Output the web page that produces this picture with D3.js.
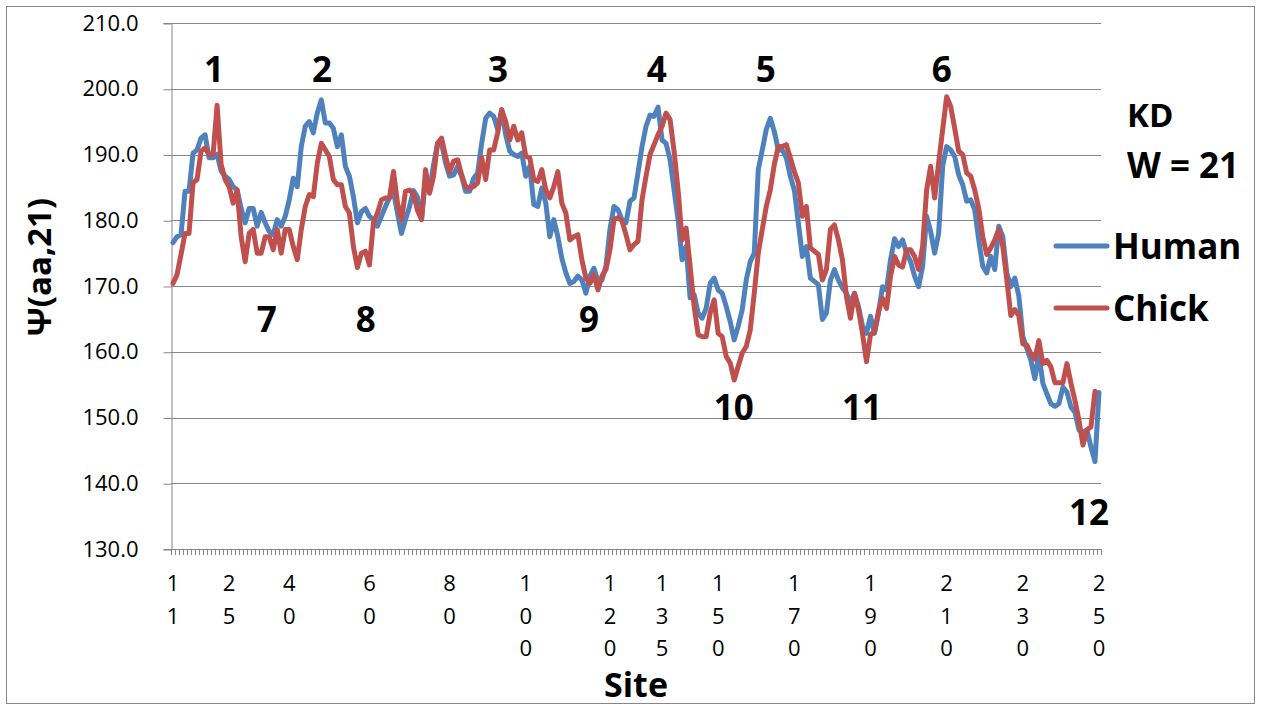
<!DOCTYPE html>
<html><head><meta charset="utf-8">
<script src="https://cdn.jsdelivr.net/npm/d3@7"></script>
<style>body{margin:0;background:#fff}svg{display:block}text{font-family:"Open Sans",sans-serif;fill:#000}</style>
</head><body><svg id="c" width="1267" height="711"></svg>
<script>
// ---- data ----
const human = [176.6,177.5,177.8,184.4,184.4,190.2,190.7,192.5,193.0,189.5,189.5,190.0,187.5,186.7,186.2,185.1,184.6,181.8,179.6,181.8,
181.8,179.1,181.2,179.6,178.3,177.8,180.1,179.1,180.6,183.1,186.4,185.1,191.2,194.3,195.0,193.3,196.3,198.3,194.8,194.8,
194.0,191.2,193.0,188.2,186.7,183.6,179.6,181.3,181.8,180.6,180.1,179.1,180.6,182.1,183.4,184.4,181.1,178.0,180.1,182.1,
184.5,183.5,180.1,186.2,184.6,188.4,191.7,191.7,188.7,186.7,186.9,188.2,186.7,184.4,184.4,186.4,187.2,191.7,195.5,196.3,
195.8,193.8,196.8,193.0,190.5,190.0,189.7,190.2,186.7,188.2,182.4,182.1,184.9,182.6,177.5,180.1,177.5,174.2,172.0,170.4,
170.7,171.5,170.9,168.9,171.5,172.7,170.7,170.9,173.0,178.6,182.1,181.6,180.1,179.6,182.9,183.4,187.2,191.2,194.3,196.0,
195.8,197.2,192.2,191.7,189.2,184.6,180.1,174.0,176.0,168.2,168.7,165.9,165.1,166.6,170.4,171.2,169.4,168.9,166.9,164.6,
161.8,163.9,166.4,170.9,173.7,175.0,187.7,190.7,193.8,195.5,193.5,190.7,190.7,189.5,186.7,184.6,179.6,174.5,176.0,171.2,
170.7,170.2,164.9,165.9,170.9,172.5,170.9,169.7,168.9,167.4,168.9,166.9,163.9,162.8,165.4,162.8,165.9,169.9,169.4,174.0,
177.2,176.0,177.0,175.0,173.7,171.5,169.9,173.0,180.6,178.3,175.0,178.0,188.2,191.2,190.7,189.7,186.9,185.4,182.9,183.1,
181.6,177.0,173.0,172.0,174.5,172.5,179.1,177.5,172.0,169.9,171.2,168.5,162.3,160.5,158.7,155.9,159.7,155.2,153.6,152.1,
151.7,152.1,154.6,153.9,151.6,150.8,148.1,147.8,148.1,145.5,143.3,153.8];
const chick = [170.4,171.7,174.8,178.0,178.0,185.7,186.2,190.5,191.0,190.0,190.0,197.5,188.5,186.2,185.1,182.6,184.6,177.5,173.7,178.0,
178.6,175.0,175.0,177.5,177.5,175.5,178.6,175.0,178.6,178.6,176.0,174.0,178.6,182.1,183.9,183.6,188.7,191.7,190.7,189.7,
186.2,185.4,185.4,182.1,181.1,176.0,172.8,175.0,175.3,173.2,179.6,181.1,183.1,183.4,183.4,187.4,182.6,180.1,184.4,184.6,
184.0,181.5,180.1,187.7,184.1,186.7,191.7,192.5,189.7,187.4,189.0,189.2,186.9,185.1,184.9,185.1,185.7,189.5,186.2,190.7,
190.7,193.3,196.8,195.0,192.2,194.3,192.2,193.3,189.7,189.5,186.2,185.9,187.7,184.6,183.4,185.1,187.4,182.6,181.1,177.0,
177.5,177.8,174.0,171.2,170.4,171.7,169.4,171.5,172.5,175.5,180.1,180.4,179.9,177.8,175.5,176.3,176.8,183.1,186.7,190.0,
191.5,193.0,194.3,196.3,195.3,190.5,184.6,177.0,178.8,173.0,166.9,162.6,162.3,162.3,165.9,167.9,162.8,162.3,159.3,158.3,
155.7,157.8,159.8,160.8,163.3,168.9,175.0,178.6,182.1,184.6,188.5,191.2,191.2,191.5,189.5,187.4,185.7,180.6,182.1,175.8,
175.3,174.8,170.9,172.5,178.6,179.3,177.0,174.0,168.4,165.1,168.9,166.4,162.8,158.5,162.6,163.1,166.1,168.1,166.6,171.5,
174.5,173.2,172.9,175.5,175.5,174.5,172.5,176.0,184.6,188.2,183.4,188.7,193.8,198.8,197.3,194.0,190.5,190.0,187.2,186.7,
184.6,181.8,177.5,174.8,175.8,177.0,178.6,176.0,171.0,165.5,166.4,165.5,161.2,161.0,159.7,158.9,161.7,158.2,158.7,157.7,
155.3,155.3,155.3,158.2,155.2,152.6,149.6,145.8,148.1,148.6,154.0];
const seriesNames = ["Human","Chick"];
const tickIndex = [0,14,29,49,69,88,109,122,136,155,174,193,212,231];
const tickLabels = ["11","25","40","60","80","100","120","135","150","170","190","210","230","250"];
const yTicks = [130,140,150,160,170,180,190,200,210];
const peakLabels = ["1","2","3","4","5","6","7","8","9","10","11","12"];
const peakIndex = [10.2,37.2,81.1,120.7,147.9,191.8,23.4,48.1,103.8,139.9,171.9,228.5];
const peakLevel = [202.9,202.9,202.9,202.9,202.9,202.9,164.9,164.9,164.9,151.5,151.5,135.6];

// ---- layout ----
const svg = d3.select("#c");
const L = 171, R = 1101, T = 23, B = 549;
const grey = "#878787";
const colors = ["#4F81BD","#C0504D"];
const N = human.length;
const xb = d3.scaleBand().domain(d3.range(N)).range([L, R]);
const xc = i => xb(0) + (i + 0.5) * xb.step();
const y = d3.scaleLinear().domain([130, 210]).range([B, T]);

svg.append("rect").attr("x",6.5).attr("y",6.5).attr("width",1248).attr("height",697)
  .attr("fill","#fff").attr("stroke",grey).attr("stroke-width",1);

// gridlines
svg.append("g").selectAll("line").data(yTicks).join("line")
  .attr("x1",L).attr("x2",R).attr("y1",d=>Math.round(y(d))+0.5).attr("y2",d=>Math.round(y(d))+0.5)
  .attr("stroke",grey).attr("stroke-width",1);

// y axis
const ya = svg.append("g").attr("transform",`translate(${L+0.5},0)`)
  .call(d3.axisLeft(y).tickValues(yTicks).tickFormat(d3.format(".1f")).tickSize(8).tickPadding(25));
ya.select(".domain").attr("stroke",grey);
ya.selectAll(".tick line").attr("stroke",grey).attr("transform","translate(0,0.5)");
ya.selectAll(".tick text").attr("font-family","Open Sans").attr("font-size",22).attr("fill","#000");

// x axis
svg.append("line").attr("x1",L).attr("x2",R).attr("y1",B+0.5).attr("y2",B+0.5).attr("stroke",grey);
svg.append("g").selectAll("line").data(d3.range(N+1)).join("line")
  .attr("x1",d=>Math.round(L + d*xb.step())+0.5).attr("x2",d=>Math.round(L + d*xb.step())+0.5)
  .attr("y1",B).attr("y2",B+6).attr("stroke",grey).attr("stroke-width",1);
const xl = svg.append("g").selectAll("text").data(tickIndex).join("text")
  .attr("text-anchor","middle").attr("font-size",22);
xl.each(function(d,k){
  const t = d3.select(this);
  tickLabels[k].split("").forEach((ch,j)=>{
    t.append("tspan").attr("x",xc(d)).attr("y",591 + j*32.5).text(ch);
  });
});

// series
const line = d3.line().x((d,i)=>xc(i)).y(d=>y(d)).curve(d3.curveLinear);
[human, chick].forEach((s,k)=>{
  svg.append("path").datum(s).attr("d",line).attr("fill","none")
    .attr("stroke",colors[k]).attr("stroke-width",5).attr("stroke-linejoin","round").attr("stroke-linecap","round");
});

// annotations
svg.append("g").selectAll("text").data(peakLabels).join("text")
  .attr("x",(d,k)=>xc(peakIndex[k])).attr("y",(d,k)=>y(peakLevel[k])).attr("dy","0.36em")
  .attr("text-anchor","middle").attr("font-weight",700).attr("font-size",35).text(d=>d);

svg.append("text").attr("x",1127).attr("y",127).attr("font-weight",700).attr("font-size",33).text("KD");
svg.append("text").attr("x",1127).attr("y",178).attr("font-weight",700).attr("font-size",35).text("W = 21");

// legend
seriesNames.forEach((n,k)=>{
  const yy = 246 + k*62;
  svg.append("line").attr("x1",1056).attr("x2",1107).attr("y1",yy).attr("y2",yy)
    .attr("stroke",colors[k]).attr("stroke-width",5).attr("stroke-linecap","round");
  svg.append("text").attr("x",1113).attr("y",yy+12.5).attr("font-weight",700).attr("font-size",35).text(n);
});

// axis titles
svg.append("text").attr("transform","translate(51,267) rotate(-90)").attr("text-anchor","middle")
  .attr("font-weight",700).attr("font-size",33).text("Ψ(aa,21)");
svg.append("text").attr("x",636).attr("y",697).attr("text-anchor","middle")
  .attr("font-weight",700).attr("font-size",34).text("Site");
</script></body></html>
